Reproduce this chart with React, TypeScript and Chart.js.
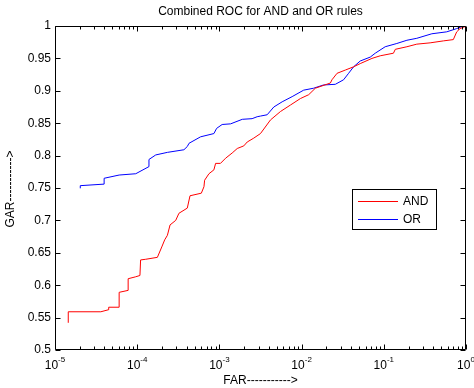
import React, { useEffect, useRef } from "react";
import { Chart, registerables } from "chart.js";

Chart.register(...registerables);

// ---- Data ----
const andFar = [
  1.45e-5, 1.45e-5, 3.61e-5, 4.44e-5, 4.5e-5, 6.03e-5, 6.03e-5, 7.76e-5, 7.76e-5, 9.6e-5,
  1.08e-4, 1.1e-4, 1.27e-4, 1.76e-4, 1.99e-4, 2.16e-4, 2.33e-4, 2.51e-4, 2.94e-4, 3.22e-4,
  4.07e-4, 4.39e-4, 6.03e-4, 6.49e-4, 6.61e-4, 7.46e-4, 8.57e-4, 8.99e-4, 1.03e-3, 1.19e-3,
  1.43e-3, 1.65e-3, 1.98e-3, 2.18e-3, 2.62e-3, 3.16e-3, 4.18e-3, 5.53e-3, 7.31e-3, 9.66e-3,
  1.22e-2, 1.47e-2, 2.24e-2, 2.34e-2, 2.7e-2, 3.4e-2, 4.29e-2, 5.17e-2, 7.18e-2, 9.04e-2,
  0.131, 0.138, 0.191, 0.252, 0.366, 0.53, 0.701, 0.771, 0.846, 0.972, 1.0,
];
const andGar = [
  0.542, 0.559, 0.559, 0.562, 0.566, 0.566, 0.589, 0.592, 0.61, 0.613,
  0.615, 0.639, 0.64, 0.643, 0.659, 0.67, 0.677, 0.693, 0.7, 0.711,
  0.719, 0.738, 0.742, 0.752, 0.762, 0.772, 0.778, 0.788, 0.788, 0.796,
  0.804, 0.811, 0.815, 0.821, 0.827, 0.834, 0.855, 0.868, 0.878, 0.888,
  0.894, 0.904, 0.912, 0.917, 0.927, 0.932, 0.937, 0.942, 0.95, 0.954,
  0.958, 0.964, 0.968, 0.972, 0.974, 0.977, 0.979, 0.991, 0.996, 0.999, 1.0,
];
const orFar = [
  2.03e-5, 2.03e-5, 3.96e-5, 3.96e-5, 6.03e-5, 9.6e-5, 1.39e-4, 1.39e-4, 1.68e-4, 2.33e-4,
  3.7e-4, 4.07e-4, 4.27e-4, 5.91e-4, 8.57e-4, 9.25e-4, 1.08e-3, 1.37e-3, 1.9e-3, 2.5e-3,
  2.88e-3, 3.16e-3, 3.81e-3, 4.59e-3, 5.8e-3, 7.67e-3, 1.06e-2, 1.4e-2, 1.85e-2, 2.57e-2,
  3.24e-2, 3.73e-2, 4.29e-2, 5.17e-2, 6.84e-2, 7.87e-2, 0.104, 0.144, 0.191, 0.252,
  0.384, 0.583, 0.771, 0.927, 1.0,
];
const orGar = [
  0.7495, 0.7536, 0.756, 0.765, 0.77, 0.772, 0.783, 0.794, 0.801, 0.805,
  0.809, 0.814, 0.819, 0.829, 0.834, 0.842, 0.848, 0.849, 0.856, 0.857,
  0.86, 0.861, 0.863, 0.875, 0.883, 0.891, 0.901, 0.904, 0.909, 0.91,
  0.917, 0.927, 0.937, 0.946, 0.952, 0.958, 0.968, 0.973, 0.978, 0.981,
  0.988, 0.991, 0.996, 1.0, 1.0,
];

const yTickValues = [0.5, 0.55, 0.6, 0.65, 0.7, 0.75, 0.8, 0.85, 0.9, 0.95, 1];
const yTickLabels = ["0.5", "0.55", "0.6", "0.65", "0.7", "0.75", "0.8", "0.85", "0.9", "0.95", "1"];
const xTickValues = [1e-5, 1e-4, 1e-3, 1e-2, 1e-1, 1];
const xTickExponents = ["-5", "-4", "-3", "-2", "-1", "0"];

const seriesNames = ["AND", "OR"];
const seriesColors = ["#ff0000", "#0000ff"];
const titleText = "Combined ROC for AND and OR rules";
const xTitle = "FAR----------->";
const yTitle = "GAR----------->";

const FONT = "'Liberation Sans', Arial, Helvetica, sans-serif";
const TEXT = "#000000";

const matlabAxes = {
  id: "matlabAxes",
  afterDraw(chart: any) {
    const ctx = chart.ctx as CanvasRenderingContext2D;
    const { left, right, top, bottom } = chart.chartArea;
    const xs = chart.scales.x;
    const ys = chart.scales.y;
    ctx.save();
    ctx.strokeStyle = "#000";
    ctx.lineWidth = 1;

    // box
    const L = Math.round(left) + 0.5;
    const R = Math.round(right) - 0.5;
    const T = Math.round(top) + 0.5;
    const B = Math.round(bottom) - 0.5;
    ctx.beginPath();
    ctx.rect(L, T, R - L, B - T);
    ctx.stroke();

    // y ticks (inward, both sides)
    ctx.beginPath();
    yTickValues.forEach((v) => {
      const y = Math.round(ys.getPixelForValue(v)) + 0.5;
      ctx.moveTo(L, y);
      ctx.lineTo(L + 5, y);
      ctx.moveTo(R, y);
      ctx.lineTo(R - 5, y);
    });
    // x major + minor ticks (inward, top and bottom)
    xTickValues.forEach((v, i) => {
      const x = Math.round(xs.getPixelForValue(v)) + 0.5;
      ctx.moveTo(x, B);
      ctx.lineTo(x, B - 5);
      ctx.moveTo(x, T);
      ctx.lineTo(x, T + 5);
      if (i < xTickValues.length - 1) {
        for (let m = 2; m <= 9; m++) {
          const xm = Math.round(xs.getPixelForValue(v * m)) + 0.5;
          ctx.moveTo(xm, B);
          ctx.lineTo(xm, B - 3);
          ctx.moveTo(xm, T);
          ctx.lineTo(xm, T + 3);
        }
      }
    });
    ctx.stroke();

    // y tick labels
    ctx.fillStyle = TEXT;
    ctx.font = `12px ${FONT}`;
    ctx.textAlign = "right";
    ctx.textBaseline = "middle";
    yTickValues.forEach((v, i) => {
      ctx.fillText(yTickLabels[i], left - 4, ys.getPixelForValue(v));
    });

    // x tick labels: 10 with superscript exponent
    xTickValues.forEach((v, i) => {
      const x = xs.getPixelForValue(v);
      ctx.font = `12px ${FONT}`;
      const wBase = ctx.measureText("10").width;
      ctx.font = `8px ${FONT}`;
      const wExp = ctx.measureText(xTickExponents[i]).width;
      const start = x - (wBase + wExp) / 2;
      ctx.textAlign = "left";
      ctx.textBaseline = "alphabetic";
      ctx.font = `12px ${FONT}`;
      ctx.fillText("10", start, bottom + 19);
      ctx.font = `8px ${FONT}`;
      ctx.fillText(xTickExponents[i], start + wBase, bottom + 12);
    });

    // axis titles
    ctx.font = `12px ${FONT}`;
    ctx.textAlign = "center";
    ctx.textBaseline = "middle";
    ctx.fillText(xTitle, (left + right) / 2, bottom + 31);
    ctx.save();
    ctx.translate(11, (top + bottom) / 2 + 1);
    ctx.rotate(-Math.PI / 2);
    ctx.fillText(yTitle, 0, 0);
    ctx.restore();

    // title
    ctx.fillText(titleText, (left + right) / 2, 12);

    // legend
    const lx = 352.5, ly = 189.5, lw = 84, lh = 40;
    ctx.fillStyle = "#fff";
    ctx.fillRect(lx, ly, lw, lh);
    ctx.strokeStyle = "#000";
    ctx.strokeRect(lx, ly, lw, lh);
    seriesNames.forEach((name, i) => {
      const yy = Math.round(ly + 11 + i * 18) + 0.5;
      ctx.strokeStyle = seriesColors[i];
      ctx.beginPath();
      ctx.moveTo(358, yy);
      ctx.lineTo(398, yy);
      ctx.stroke();
      ctx.fillStyle = TEXT;
      ctx.textAlign = "left";
      ctx.textBaseline = "middle";
      ctx.fillText(name, 403, yy);
    });
    ctx.restore();
  },
};

export default function App() {
  const ref = useRef<HTMLCanvasElement>(null);
  useEffect(() => {
    if (!ref.current) return;
    const chart = new Chart(ref.current, {
      type: "scatter",
      data: {
        datasets: [
          {
            label: seriesNames[0],
            data: andFar.map((x, i) => ({ x, y: andGar[i] })),
            borderColor: seriesColors[0],
            backgroundColor: seriesColors[0],
            borderWidth: 1,
            showLine: true,
            pointRadius: 0,
          },
          {
            label: seriesNames[1],
            data: orFar.map((x, i) => ({ x, y: orGar[i] })),
            borderColor: seriesColors[1],
            backgroundColor: seriesColors[1],
            borderWidth: 1,
            showLine: true,
            pointRadius: 0,
          },
        ],
      },
      options: {
        responsive: false,
        animation: false,
        devicePixelRatio: 1,
        layout: { padding: { left: 55, right: 8, top: 26, bottom: 38 } },
        plugins: {
          legend: { display: false },
          title: { display: false },
          tooltip: { enabled: false },
        },
        scales: {
          x: { type: "logarithmic", min: 1e-5, max: 1, display: false },
          y: { type: "linear", min: 0.5, max: 1, display: false },
        },
      },
      plugins: [matlabAxes],
    });
    return () => chart.destroy();
  }, []);
  return (
    <div style={{ position: "absolute", left: 0, top: 0, width: 474, height: 388, background: "#fff" }}>
      <canvas ref={ref} width={474} height={388} style={{ display: "block" }} />
    </div>
  );
}
